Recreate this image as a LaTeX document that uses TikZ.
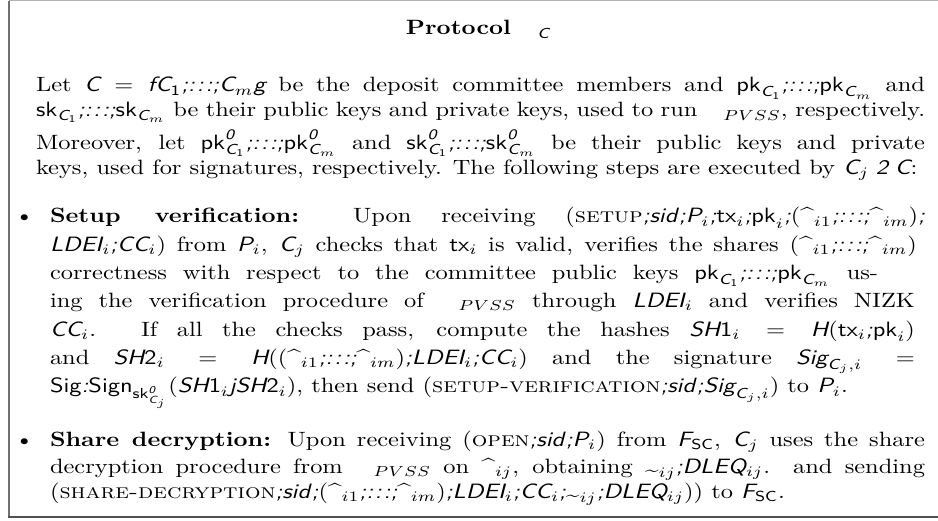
\documentclass[tikz,border=0pt]{standalone}
\usepackage{amsmath}
\usepackage{xcolor}
\definecolor{frametop}{HTML}{B0B0B0}
\definecolor{frameleft}{HTML}{707070}
\definecolor{framebot}{HTML}{505050}
% sans oblique / sans upright pieces of the formulas
\newcommand\sfo[1]{\textsf{\slshape #1}}
\newcommand\sfu[1]{\textsf{#1}}
\newcommand\sepc{\sfo{;}}
\newcommand\ldd{\sfo{:}\kern0.8pt\sfo{:}\kern0.8pt\sfo{:}}
\newcommand\hsig{\sfu{\textasciicircum}}
\newcommand\tsig{\raisebox{-0.35ex}{\sfu{\textasciitilde}}}
\newcommand\pkC[1]{\sfu{pk}_{\sfo{C}_{#1}}}
\newcommand\skC[1]{\sfu{sk}_{\sfo{C}_{#1}}}
\newcommand\pkCp[1]{\sfu{pk}^{\sfo{0}}_{\sfo{C}_{#1}}}
\newcommand\skCp[1]{\sfu{sk}^{\sfo{0}}_{\sfo{C}_{#1}}}
\newcommand\pvss{\phantom{\Pi}_{PVSS}}
\tikzset{
  ln/.style={anchor=base west, inner sep=0pt, outer sep=0pt},
  bul/.style={anchor=base, inner sep=0pt, outer sep=0pt}
}
\begin{document}
% the whole box is set in a horizontally widened frame
\begin{tikzpicture}[x=1pt, y=1pt, xscale=1.18, every node/.append style={transform shape}]
\useasboundingbox (0,0) rectangle (384.0,-251.21);
% frame
\draw[frametop, line width=0.6pt] (3.68,-0.3) -- (384.0,-0.3);
\draw[frameleft, line width=1pt] (3.68,-0.3) -- (3.68,-249.8);
\draw[framebot, line width=1.1pt] (3.3,-249.8) -- (384.0,-249.8);
% title
\node[anchor=base, inner sep=0pt] (title) at (195.7,-16.9)
  {\textbf{Protocol} $\phantom{\Pi}_{\sfo{C}}$};
% introductory paragraph
\node[ln] (p1) at (14.74,-44.4) {\makebox[363.96pt][s]{Let $\sfo{C} = \sfo{fC}_{\sfu{1}}\sepc\ldd\sepc\sfo{C}_m\sfo{g}$ be the deposit committee members and $\pkC{\sfu{1}}\sepc\ldd\sepc\pkC{m}$ and}};
\node[ln] (p2) at (14.74,-56.5) {\makebox[363.96pt][s]{$\skC{\sfu{1}}\sepc\ldd\sepc\skC{m}$ be their public keys and private keys, used to run $\pvss$, respectively.}};
\node[ln] (p3) at (14.74,-72.0) {\makebox[363.96pt][s]{Moreover, let $\pkCp{\sfu{1}}\sepc\ldd\sepc\pkCp{m}$ and $\skCp{\sfu{1}}\sepc\ldd\sepc\skCp{m}$ be their public keys and private}};
\node[ln] (p4) at (14.74,-84.1) {keys, used for signatures, respectively. The following steps are executed by $\sfo{C}_j \mathrel{\sfo{2}} \sfo{C}$:};
% first step
\node[bul] (b1) at (10.03,-107.7) {\textbullet};
\node[ln] (a1) at (20.47,-107.7) {\makebox[358.2pt][s]{\textbf{Setup verification:} Upon receiving (\textsc{setup}\sepc\sfo{sid}\sepc$\sfo{P}_i\sepc\sfu{tx}_i\sepc\sfu{pk}_i\sepc(\hsig_{i1}\sepc\ldd\sepc\hsig_{im})\sepc$}};
\node[ln] (a2) at (20.47,-121.4) {\makebox[354.9pt][s]{$\sfo{LDEI}_i\sepc\sfo{CC}_i$) from $\sfo{P}_i$, $\sfo{C}_j$ checks that $\sfu{tx}_i$ is valid, verifies the shares $(\hsig_{i1}\sepc\ldd\sepc\hsig_{im})$}};
\node[ln] (a3) at (20.47,-135.1) {\makebox[339.0pt][s]{correctness with respect to the committee public keys $\pkC{\sfu{1}}\sepc\ldd\sepc\pkC{m}$ us-}};
\node[ln] (a4) at (20.47,-148.7) {\makebox[354.1pt][s]{ing the verification procedure of $\pvss$ through $\sfo{LDEI}_i$ and verifies NIZK}};
\node[ln] (a5) at (20.47,-162.4) {\makebox[354.1pt][s]{$\sfo{CC}_i$. If all the checks pass, compute the hashes $\sfo{SH}\sfu{1}_i = \sfo{H}(\sfu{tx}_i\sepc\sfu{pk}_i)$}};
\node[ln] (a6) at (20.47,-176.1) {\makebox[354.1pt][s]{and $\sfo{SH}\sfu{2}_i = \sfo{H}((\hsig_{i1}\sepc\ldd\sepc\hsig_{im})\sepc\sfo{LDEI}_i\sepc\sfo{CC}_i)$ and the signature $\sfo{Sig}_{\sfo{C}_j,i} =$}};
\node[ln] (a7) at (20.47,-189.8) {$\sfu{Sig}\sfo{:}\sfu{Sign}_{\sfu{sk}^{\sfo{0}}_{\sfo{C}_j}}(\sfo{SH}\sfu{1}_i\sfo{j}\sfo{SH}\sfu{2}_i)$, then send (\textsc{setup-verification}\sepc\sfo{sid}\sepc$\sfo{Sig}_{\sfo{C}_j,i}$) to $\sfo{P}_i$.};
% second step
\node[bul] (b2) at (10.03,-215.5) {\textbullet};
\node[ln] (c1) at (20.47,-215.5) {\makebox[358.2pt][s]{\textbf{Share decryption:} Upon receiving (\textsc{open}\sepc\sfo{sid}\sepc$\sfo{P}_i$) from $\sfo{F}_{\sfu{SC}}$, $\sfo{C}_j$ uses the share}};
\node[ln] (c2) at (20.47,-228.5) {\makebox[358.2pt][s]{decryption procedure from $\pvss$ on $\hsig_{ij}$, obtaining $\tsig_{ij}\sepc\sfo{DLEQ}_{ij}$. and sending}};
\node[ln] (c3) at (20.47,-240.6) {(\textsc{share-decryption}\sepc\sfo{sid}\sepc$(\hsig_{i1}\sepc\ldd\sepc\hsig_{im})\sepc\sfo{LDEI}_i\sepc\sfo{CC}_i\sepc\tsig_{ij}\sepc\sfo{DLEQ}_{ij})$) to $\sfo{F}_{\sfu{SC}}$.};
\end{tikzpicture}
\end{document}
